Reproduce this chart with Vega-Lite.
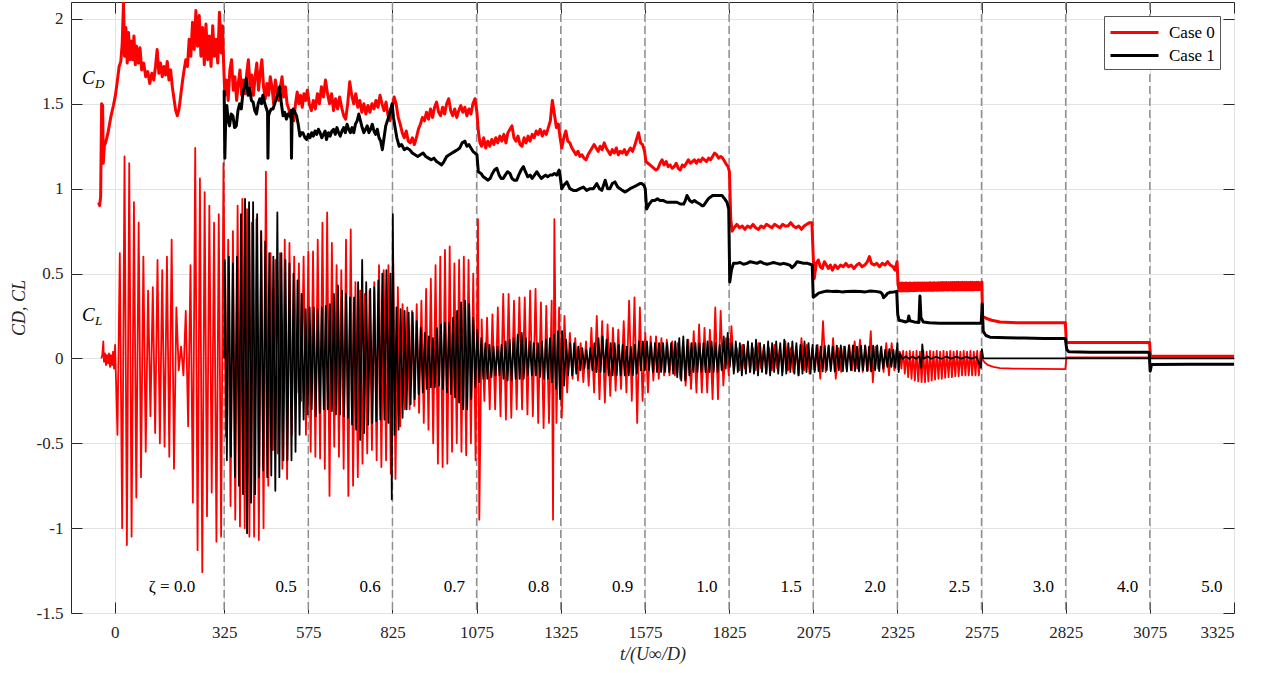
{
"$schema":"https://vega.github.io/schema/vega-lite/v6.json",
"width":1163,"height":611,
"autosize":{"type":"none"},
"padding":{"left":71,"top":2,"right":37,"bottom":60},
"background":"white",
"config":{
"view":{"stroke":"#262626","strokeWidth":1},
"font":"Liberation Serif, Times New Roman, serif",
"axis":{"labelFont":"Liberation Serif, Times New Roman, serif","labelFontSize":17,"labelColor":"#262626","titleFont":"Liberation Serif, Times New Roman, serif","titleFontSize":18,"titleFontStyle":"italic","titleFontWeight":"normal","titleColor":"#262626","tickColor":"#262626","tickSize":-11,"tickWidth":1,"domain":false,"gridColor":"#e3e3e3","gridWidth":1},
"legend":{"labelFont":"Liberation Serif, Times New Roman, serif"}
},
"datasets":{
"bounds":[{"b":325},{"b":575},{"b":825},{"b":1075},{"b":1325},{"b":1575},{"b":1825},{"b":2075},{"b":2325},{"b":2575},{"b":2825},{"b":3075}],
"zones":[{"lab":"ζ = 0.0","lt":170,"lv":-1.346},{"lab":"0.5","lt":509,"lv":-1.346},{"lab":"0.6","lt":759,"lv":-1.346},{"lab":"0.7","lt":1009,"lv":-1.346},{"lab":"0.8","lt":1259,"lv":-1.346},{"lab":"0.9","lt":1509,"lv":-1.346},{"lab":"1.0","lt":1759,"lv":-1.346},{"lab":"1.5","lt":2009,"lv":-1.346},{"lab":"2.0","lt":2259,"lv":-1.346},{"lab":"2.5","lt":2509,"lv":-1.346},{"lab":"3.0","lt":2759,"lv":-1.346},{"lab":"4.0","lt":3009,"lv":-1.346},{"lab":"5.0","lt":3259,"lv":-1.346}],
"notes":[{"m":"C","sub":"D","nt":-97,"nv":1.617},{"m":"C","sub":"L","nt":-97,"nv":0.22}],
"curves":[
{"t":-48,"v":0.92,"s":"D0"},{"t":-45,"v":0.9,"s":"D0"},{"t":-42,"v":0.95,"s":"D0"},{"t":-39,"v":1.5,"s":"D0"},{"t":-36,"v":1.49,"s":"D0"},{"t":-34,"v":1.15,"s":"D0"},{"t":-31,"v":1.25,"s":"D0"},{"t":-26,"v":1.28,"s":"D0"},{"t":-20,"v":1.33,"s":"D0"},{"t":-12,"v":1.42,"s":"D0"},{"t":-4,"v":1.49,"s":"D0"},{"t":2,"v":1.55,"s":"D0"},{"t":8,"v":1.64,"s":"D0"},{"t":13,"v":1.72,"s":"D0"},{"t":18,"v":1.75,"s":"D0"},{"t":22,"v":1.85,"s":"D0"},{"t":26,"v":2.1,"s":"D0"},{"t":29,"v":1.78,"s":"D0"},{"t":33,"v":1.95,"s":"D0"},{"t":37,"v":1.74,"s":"D0"},{"t":41,"v":1.92,"s":"D0"},{"t":45,"v":1.76,"s":"D0"},{"t":49,"v":1.87,"s":"D0"},{"t":53,"v":1.76,"s":"D0"},{"t":57,"v":1.9,"s":"D0"},{"t":61,"v":1.73,"s":"D0"},{"t":65,"v":1.84,"s":"D0"},{"t":70,"v":1.74,"s":"D0"},{"t":75,"v":1.83,"s":"D0"},{"t":80,"v":1.7,"s":"D0"},{"t":86,"v":1.74,"s":"D0"},{"t":92,"v":1.66,"s":"D0"},{"t":98,"v":1.69,"s":"D0"},{"t":104,"v":1.62,"s":"D0"},{"t":110,"v":1.68,"s":"D0"},{"t":116,"v":1.64,"s":"D0"},{"t":121,"v":1.72,"s":"D0"},{"t":126,"v":1.82,"s":"D0"},{"t":131,"v":1.68,"s":"D0"},{"t":136,"v":1.74,"s":"D0"},{"t":141,"v":1.66,"s":"D0"},{"t":146,"v":1.72,"s":"D0"},{"t":151,"v":1.67,"s":"D0"},{"t":156,"v":1.75,"s":"D0"},{"t":161,"v":1.64,"s":"D0"},{"t":166,"v":1.7,"s":"D0"},{"t":171,"v":1.6,"s":"D0"},{"t":176,"v":1.53,"s":"D0"},{"t":181,"v":1.46,"s":"D0"},{"t":186,"v":1.43,"s":"D0"},{"t":191,"v":1.47,"s":"D0"},{"t":196,"v":1.55,"s":"D0"},{"t":201,"v":1.63,"s":"D0"},{"t":206,"v":1.7,"s":"D0"},{"t":211,"v":1.76,"s":"D0"},{"t":216,"v":1.72,"s":"D0"},{"t":221,"v":1.88,"s":"D0"},{"t":226,"v":1.78,"s":"D0"},{"t":231,"v":1.98,"s":"D0"},{"t":236,"v":1.82,"s":"D0"},{"t":241,"v":2.05,"s":"D0"},{"t":246,"v":1.84,"s":"D0"},{"t":251,"v":2.02,"s":"D0"},{"t":256,"v":1.78,"s":"D0"},{"t":261,"v":1.95,"s":"D0"},{"t":266,"v":1.73,"s":"D0"},{"t":271,"v":1.97,"s":"D0"},{"t":276,"v":1.76,"s":"D0"},{"t":281,"v":1.9,"s":"D0"},{"t":286,"v":1.72,"s":"D0"},{"t":291,"v":1.96,"s":"D0"},{"t":296,"v":1.78,"s":"D0"},{"t":301,"v":1.88,"s":"D0"},{"t":306,"v":1.74,"s":"D0"},{"t":311,"v":2.04,"s":"D0"},{"t":316,"v":1.8,"s":"D0"},{"t":320,"v":1.96,"s":"D0"},{"t":323,"v":1.76,"s":"D0"},{"t":327,"v":1.55,"s":"D0"},
{"t":332,"v":1.64,"s":"D0"},{"t":337,"v":1.52,"s":"D0"},{"t":342,"v":1.7,"s":"D0"},{"t":347,"v":1.76,"s":"D0"},{"t":352,"v":1.58,"s":"D0"},{"t":357,"v":1.66,"s":"D0"},{"t":362,"v":1.52,"s":"D0"},{"t":367,"v":1.62,"s":"D0"},{"t":372,"v":1.7,"s":"D0"},{"t":377,"v":1.55,"s":"D0"},{"t":382,"v":1.64,"s":"D0"},{"t":387,"v":1.56,"s":"D0"},{"t":392,"v":1.68,"s":"D0"},{"t":397,"v":1.76,"s":"D0"},{"t":402,"v":1.6,"s":"D0"},{"t":407,"v":1.67,"s":"D0"},{"t":412,"v":1.55,"s":"D0"},{"t":417,"v":1.66,"s":"D0"},{"t":422,"v":1.74,"s":"D0"},{"t":427,"v":1.58,"s":"D0"},{"t":432,"v":1.68,"s":"D0"},{"t":437,"v":1.76,"s":"D0"},{"t":442,"v":1.6,"s":"D0"},{"t":447,"v":1.53,"s":"D0"},{"t":452,"v":1.62,"s":"D0"},{"t":457,"v":1.55,"s":"D0"},{"t":462,"v":1.66,"s":"D0"},{"t":467,"v":1.6,"s":"D0"},{"t":472,"v":1.5,"s":"D0"},{"t":477,"v":1.64,"s":"D0"},{"t":482,"v":1.58,"s":"D0"},{"t":487,"v":1.52,"s":"D0"},{"t":492,"v":1.6,"s":"D0"},{"t":497,"v":1.66,"s":"D0"},{"t":502,"v":1.54,"s":"D0"},{"t":507,"v":1.6,"s":"D0"},{"t":512,"v":1.5,"s":"D0"},{"t":517,"v":1.47,"s":"D0"},{"t":522,"v":1.42,"s":"D0"},{"t":527,"v":1.46,"s":"D0"},{"t":532,"v":1.4,"s":"D0"},{"t":537,"v":1.5,"s":"D0"},{"t":542,"v":1.57,"s":"D0"},{"t":547,"v":1.5,"s":"D0"},{"t":552,"v":1.55,"s":"D0"},{"t":557,"v":1.48,"s":"D0"},{"t":562,"v":1.56,"s":"D0"},{"t":567,"v":1.52,"s":"D0"},{"t":572,"v":1.58,"s":"D0"},
{"t":578,"v":1.5,"s":"D0"},{"t":584,"v":1.46,"s":"D0"},{"t":590,"v":1.52,"s":"D0"},{"t":596,"v":1.47,"s":"D0"},{"t":602,"v":1.56,"s":"D0"},{"t":608,"v":1.5,"s":"D0"},{"t":614,"v":1.6,"s":"D0"},{"t":620,"v":1.54,"s":"D0"},{"t":626,"v":1.64,"s":"D0"},{"t":632,"v":1.56,"s":"D0"},{"t":638,"v":1.5,"s":"D0"},{"t":644,"v":1.56,"s":"D0"},{"t":650,"v":1.46,"s":"D0"},{"t":656,"v":1.53,"s":"D0"},{"t":662,"v":1.47,"s":"D0"},{"t":668,"v":1.54,"s":"D0"},{"t":674,"v":1.48,"s":"D0"},{"t":680,"v":1.43,"s":"D0"},{"t":686,"v":1.41,"s":"D0"},{"t":692,"v":1.5,"s":"D0"},{"t":698,"v":1.63,"s":"D0"},{"t":704,"v":1.55,"s":"D0"},{"t":710,"v":1.5,"s":"D0"},{"t":716,"v":1.56,"s":"D0"},{"t":722,"v":1.48,"s":"D0"},{"t":728,"v":1.52,"s":"D0"},{"t":734,"v":1.45,"s":"D0"},{"t":740,"v":1.5,"s":"D0"},{"t":746,"v":1.44,"s":"D0"},{"t":752,"v":1.49,"s":"D0"},{"t":758,"v":1.45,"s":"D0"},{"t":764,"v":1.5,"s":"D0"},{"t":770,"v":1.47,"s":"D0"},{"t":776,"v":1.52,"s":"D0"},{"t":782,"v":1.48,"s":"D0"},{"t":788,"v":1.55,"s":"D0"},{"t":794,"v":1.5,"s":"D0"},{"t":800,"v":1.46,"s":"D0"},{"t":806,"v":1.51,"s":"D0"},{"t":812,"v":1.43,"s":"D0"},{"t":818,"v":1.4,"s":"D0"},{"t":824,"v":1.47,"s":"D0"},{"t":830,"v":1.54,"s":"D0"},{"t":836,"v":1.5,"s":"D0"},
{"t":842,"v":1.42,"s":"D0"},{"t":848,"v":1.38,"s":"D0"},{"t":854,"v":1.33,"s":"D0"},{"t":860,"v":1.3,"s":"D0"},{"t":866,"v":1.34,"s":"D0"},{"t":872,"v":1.28,"s":"D0"},{"t":878,"v":1.27,"s":"D0"},{"t":884,"v":1.3,"s":"D0"},{"t":890,"v":1.26,"s":"D0"},{"t":896,"v":1.3,"s":"D0"},{"t":902,"v":1.35,"s":"D0"},{"t":908,"v":1.38,"s":"D0"},{"t":914,"v":1.42,"s":"D0"},{"t":920,"v":1.4,"s":"D0"},{"t":926,"v":1.45,"s":"D0"},{"t":932,"v":1.41,"s":"D0"},{"t":938,"v":1.47,"s":"D0"},{"t":944,"v":1.42,"s":"D0"},{"t":950,"v":1.48,"s":"D0"},{"t":956,"v":1.51,"s":"D0"},{"t":962,"v":1.45,"s":"D0"},{"t":968,"v":1.43,"s":"D0"},{"t":974,"v":1.48,"s":"D0"},{"t":980,"v":1.44,"s":"D0"},{"t":986,"v":1.5,"s":"D0"},{"t":992,"v":1.53,"s":"D0"},{"t":998,"v":1.46,"s":"D0"},{"t":1004,"v":1.43,"s":"D0"},{"t":1010,"v":1.47,"s":"D0"},{"t":1016,"v":1.42,"s":"D0"},{"t":1022,"v":1.46,"s":"D0"},{"t":1028,"v":1.49,"s":"D0"},{"t":1034,"v":1.45,"s":"D0"},{"t":1040,"v":1.48,"s":"D0"},{"t":1046,"v":1.43,"s":"D0"},{"t":1052,"v":1.47,"s":"D0"},{"t":1058,"v":1.44,"s":"D0"},{"t":1064,"v":1.5,"s":"D0"},{"t":1070,"v":1.53,"s":"D0"},{"t":1076,"v":1.45,"s":"D0"},
{"t":1080,"v":1.34,"s":"D0"},{"t":1085,"v":1.27,"s":"D0"},{"t":1090,"v":1.25,"s":"D0"},{"t":1096,"v":1.3,"s":"D0"},{"t":1102,"v":1.24,"s":"D0"},{"t":1108,"v":1.28,"s":"D0"},{"t":1114,"v":1.25,"s":"D0"},{"t":1120,"v":1.29,"s":"D0"},{"t":1126,"v":1.26,"s":"D0"},{"t":1132,"v":1.3,"s":"D0"},{"t":1138,"v":1.27,"s":"D0"},{"t":1144,"v":1.31,"s":"D0"},{"t":1150,"v":1.28,"s":"D0"},{"t":1156,"v":1.32,"s":"D0"},{"t":1162,"v":1.27,"s":"D0"},{"t":1168,"v":1.33,"s":"D0"},{"t":1174,"v":1.35,"s":"D0"},{"t":1180,"v":1.37,"s":"D0"},{"t":1186,"v":1.3,"s":"D0"},{"t":1192,"v":1.28,"s":"D0"},{"t":1198,"v":1.31,"s":"D0"},{"t":1204,"v":1.26,"s":"D0"},{"t":1210,"v":1.25,"s":"D0"},{"t":1216,"v":1.3,"s":"D0"},{"t":1222,"v":1.27,"s":"D0"},{"t":1228,"v":1.31,"s":"D0"},{"t":1234,"v":1.28,"s":"D0"},{"t":1240,"v":1.32,"s":"D0"},{"t":1246,"v":1.3,"s":"D0"},{"t":1252,"v":1.34,"s":"D0"},{"t":1258,"v":1.32,"s":"D0"},{"t":1264,"v":1.35,"s":"D0"},{"t":1270,"v":1.31,"s":"D0"},{"t":1276,"v":1.34,"s":"D0"},{"t":1282,"v":1.32,"s":"D0"},{"t":1288,"v":1.36,"s":"D0"},{"t":1294,"v":1.4,"s":"D0"},{"t":1300,"v":1.52,"s":"D0"},{"t":1306,"v":1.44,"s":"D0"},{"t":1312,"v":1.36,"s":"D0"},{"t":1318,"v":1.38,"s":"D0"},{"t":1323,"v":1.3,"s":"D0"},
{"t":1328,"v":1.24,"s":"D0"},{"t":1334,"v":1.3,"s":"D0"},{"t":1340,"v":1.34,"s":"D0"},{"t":1346,"v":1.28,"s":"D0"},{"t":1352,"v":1.27,"s":"D0"},{"t":1358,"v":1.24,"s":"D0"},{"t":1364,"v":1.22,"s":"D0"},{"t":1370,"v":1.2,"s":"D0"},{"t":1376,"v":1.22,"s":"D0"},{"t":1382,"v":1.19,"s":"D0"},{"t":1388,"v":1.2,"s":"D0"},{"t":1394,"v":1.18,"s":"D0"},{"t":1400,"v":1.17,"s":"D0"},{"t":1406,"v":1.2,"s":"D0"},{"t":1412,"v":1.22,"s":"D0"},{"t":1418,"v":1.24,"s":"D0"},{"t":1424,"v":1.26,"s":"D0"},{"t":1430,"v":1.24,"s":"D0"},{"t":1436,"v":1.22,"s":"D0"},{"t":1442,"v":1.25,"s":"D0"},{"t":1448,"v":1.23,"s":"D0"},{"t":1454,"v":1.27,"s":"D0"},{"t":1460,"v":1.24,"s":"D0"},{"t":1466,"v":1.22,"s":"D0"},{"t":1472,"v":1.2,"s":"D0"},{"t":1478,"v":1.23,"s":"D0"},{"t":1484,"v":1.21,"s":"D0"},{"t":1490,"v":1.24,"s":"D0"},{"t":1496,"v":1.2,"s":"D0"},{"t":1502,"v":1.22,"s":"D0"},{"t":1508,"v":1.21,"s":"D0"},{"t":1514,"v":1.23,"s":"D0"},{"t":1520,"v":1.2,"s":"D0"},{"t":1526,"v":1.22,"s":"D0"},{"t":1532,"v":1.24,"s":"D0"},{"t":1538,"v":1.22,"s":"D0"},{"t":1544,"v":1.25,"s":"D0"},{"t":1550,"v":1.29,"s":"D0"},{"t":1556,"v":1.33,"s":"D0"},{"t":1562,"v":1.27,"s":"D0"},{"t":1568,"v":1.26,"s":"D0"},{"t":1574,"v":1.22,"s":"D0"},
{"t":1578,"v":1.16,"s":"D0"},{"t":1584,"v":1.15,"s":"D0"},{"t":1590,"v":1.14,"s":"D0"},{"t":1596,"v":1.13,"s":"D0"},{"t":1602,"v":1.12,"s":"D0"},{"t":1608,"v":1.11,"s":"D0"},{"t":1614,"v":1.12,"s":"D0"},{"t":1620,"v":1.15,"s":"D0"},{"t":1626,"v":1.17,"s":"D0"},{"t":1632,"v":1.14,"s":"D0"},{"t":1638,"v":1.16,"s":"D0"},{"t":1644,"v":1.13,"s":"D0"},{"t":1650,"v":1.14,"s":"D0"},{"t":1656,"v":1.12,"s":"D0"},{"t":1662,"v":1.13,"s":"D0"},{"t":1668,"v":1.15,"s":"D0"},{"t":1674,"v":1.12,"s":"D0"},{"t":1680,"v":1.11,"s":"D0"},{"t":1686,"v":1.14,"s":"D0"},{"t":1692,"v":1.13,"s":"D0"},{"t":1698,"v":1.15,"s":"D0"},{"t":1704,"v":1.17,"s":"D0"},{"t":1710,"v":1.15,"s":"D0"},{"t":1716,"v":1.16,"s":"D0"},{"t":1722,"v":1.17,"s":"D0"},{"t":1728,"v":1.15,"s":"D0"},{"t":1734,"v":1.17,"s":"D0"},{"t":1740,"v":1.16,"s":"D0"},{"t":1746,"v":1.18,"s":"D0"},{"t":1752,"v":1.17,"s":"D0"},{"t":1758,"v":1.16,"s":"D0"},{"t":1764,"v":1.18,"s":"D0"},{"t":1770,"v":1.17,"s":"D0"},{"t":1776,"v":1.19,"s":"D0"},{"t":1782,"v":1.21,"s":"D0"},{"t":1788,"v":1.2,"s":"D0"},{"t":1794,"v":1.18,"s":"D0"},{"t":1800,"v":1.19,"s":"D0"},{"t":1806,"v":1.18,"s":"D0"},{"t":1812,"v":1.16,"s":"D0"},{"t":1818,"v":1.14,"s":"D0"},{"t":1822,"v":1.13,"s":"D0"},
{"t":1826,"v":1.1,"s":"D0"},{"t":1830,"v":0.82,"s":"D0"},{"t":1834,"v":0.75,"s":"D0"},{"t":1840,"v":0.77,"s":"D0"},{"t":1848,"v":0.79,"s":"D0"},{"t":1856,"v":0.77,"s":"D0"},{"t":1864,"v":0.78,"s":"D0"},{"t":1872,"v":0.76,"s":"D0"},{"t":1880,"v":0.78,"s":"D0"},{"t":1888,"v":0.77,"s":"D0"},{"t":1896,"v":0.79,"s":"D0"},{"t":1904,"v":0.77,"s":"D0"},{"t":1912,"v":0.76,"s":"D0"},{"t":1920,"v":0.78,"s":"D0"},{"t":1928,"v":0.77,"s":"D0"},{"t":1936,"v":0.79,"s":"D0"},{"t":1944,"v":0.78,"s":"D0"},{"t":1952,"v":0.77,"s":"D0"},{"t":1960,"v":0.79,"s":"D0"},{"t":1968,"v":0.78,"s":"D0"},{"t":1976,"v":0.77,"s":"D0"},{"t":1984,"v":0.79,"s":"D0"},{"t":1992,"v":0.78,"s":"D0"},{"t":2000,"v":0.78,"s":"D0"},{"t":2008,"v":0.8,"s":"D0"},{"t":2016,"v":0.78,"s":"D0"},{"t":2024,"v":0.77,"s":"D0"},{"t":2032,"v":0.78,"s":"D0"},{"t":2040,"v":0.76,"s":"D0"},{"t":2048,"v":0.78,"s":"D0"},{"t":2056,"v":0.79,"s":"D0"},{"t":2064,"v":0.8,"s":"D0"},{"t":2071,"v":0.8,"s":"D0"},{"t":2075,"v":0.6,"s":"D0"},
{"t":2078,"v":0.47,"s":"D0"},{"t":2084,"v":0.56,"s":"D0"},{"t":2090,"v":0.58,"s":"D0"},{"t":2096,"v":0.54,"s":"D0"},{"t":2102,"v":0.53,"s":"D0"},{"t":2108,"v":0.57,"s":"D0"},{"t":2114,"v":0.55,"s":"D0"},{"t":2120,"v":0.53,"s":"D0"},{"t":2126,"v":0.55,"s":"D0"},{"t":2132,"v":0.52,"s":"D0"},{"t":2140,"v":0.55,"s":"D0"},{"t":2148,"v":0.53,"s":"D0"},{"t":2156,"v":0.55,"s":"D0"},{"t":2164,"v":0.54,"s":"D0"},{"t":2172,"v":0.56,"s":"D0"},{"t":2180,"v":0.54,"s":"D0"},{"t":2188,"v":0.55,"s":"D0"},{"t":2196,"v":0.53,"s":"D0"},{"t":2204,"v":0.55,"s":"D0"},{"t":2212,"v":0.56,"s":"D0"},{"t":2220,"v":0.54,"s":"D0"},{"t":2228,"v":0.55,"s":"D0"},{"t":2236,"v":0.57,"s":"D0"},{"t":2242,"v":0.6,"s":"D0"},{"t":2248,"v":0.56,"s":"D0"},{"t":2256,"v":0.55,"s":"D0"},{"t":2264,"v":0.56,"s":"D0"},{"t":2272,"v":0.54,"s":"D0"},{"t":2280,"v":0.56,"s":"D0"},{"t":2288,"v":0.55,"s":"D0"},{"t":2296,"v":0.57,"s":"D0"},{"t":2304,"v":0.55,"s":"D0"},{"t":2312,"v":0.54,"s":"D0"},{"t":2318,"v":0.52,"s":"D0"},{"t":2324,"v":0.57,"s":"D0"},
{"t":2327,"v":0.44,"s":"D0"},{"t":2330,"v":0.398,"s":"D0"},{"t":2333,"v":0.443,"s":"D0"},{"t":2336,"v":0.397,"s":"D0"},{"t":2339,"v":0.444,"s":"D0"},{"t":2342,"v":0.398,"s":"D0"},{"t":2345,"v":0.443,"s":"D0"},{"t":2348,"v":0.399,"s":"D0"},{"t":2351,"v":0.444,"s":"D0"},{"t":2354,"v":0.398,"s":"D0"},{"t":2357,"v":0.443,"s":"D0"},{"t":2360,"v":0.399,"s":"D0"},{"t":2363,"v":0.444,"s":"D0"},{"t":2366,"v":0.4,"s":"D0"},{"t":2369,"v":0.443,"s":"D0"},{"t":2372,"v":0.399,"s":"D0"},{"t":2375,"v":0.444,"s":"D0"},{"t":2378,"v":0.4,"s":"D0"},{"t":2381,"v":0.445,"s":"D0"},{"t":2384,"v":0.4,"s":"D0"},{"t":2387,"v":0.444,"s":"D0"},{"t":2390,"v":0.401,"s":"D0"},{"t":2393,"v":0.445,"s":"D0"},{"t":2396,"v":0.4,"s":"D0"},{"t":2399,"v":0.444,"s":"D0"},{"t":2402,"v":0.401,"s":"D0"},{"t":2405,"v":0.445,"s":"D0"},{"t":2408,"v":0.401,"s":"D0"},{"t":2411,"v":0.445,"s":"D0"},{"t":2414,"v":0.402,"s":"D0"},{"t":2417,"v":0.445,"s":"D0"},{"t":2420,"v":0.401,"s":"D0"},{"t":2423,"v":0.446,"s":"D0"},{"t":2426,"v":0.402,"s":"D0"},{"t":2429,"v":0.445,"s":"D0"},{"t":2432,"v":0.402,"s":"D0"},{"t":2435,"v":0.446,"s":"D0"},{"t":2438,"v":0.403,"s":"D0"},{"t":2441,"v":0.445,"s":"D0"},{"t":2444,"v":0.402,"s":"D0"},{"t":2447,"v":0.446,"s":"D0"},{"t":2450,"v":0.403,"s":"D0"},{"t":2453,"v":0.446,"s":"D0"},{"t":2456,"v":0.403,"s":"D0"},{"t":2459,"v":0.447,"s":"D0"},{"t":2462,"v":0.403,"s":"D0"},{"t":2465,"v":0.446,"s":"D0"},{"t":2468,"v":0.404,"s":"D0"},{"t":2471,"v":0.447,"s":"D0"},{"t":2474,"v":0.403,"s":"D0"},{"t":2477,"v":0.446,"s":"D0"},{"t":2480,"v":0.404,"s":"D0"},{"t":2483,"v":0.447,"s":"D0"},{"t":2486,"v":0.404,"s":"D0"},{"t":2489,"v":0.447,"s":"D0"},{"t":2492,"v":0.403,"s":"D0"},{"t":2495,"v":0.447,"s":"D0"},{"t":2498,"v":0.404,"s":"D0"},{"t":2501,"v":0.447,"s":"D0"},{"t":2504,"v":0.404,"s":"D0"},{"t":2507,"v":0.448,"s":"D0"},{"t":2510,"v":0.404,"s":"D0"},{"t":2513,"v":0.447,"s":"D0"},{"t":2516,"v":0.405,"s":"D0"},{"t":2519,"v":0.448,"s":"D0"},{"t":2522,"v":0.404,"s":"D0"},{"t":2525,"v":0.447,"s":"D0"},{"t":2528,"v":0.405,"s":"D0"},{"t":2531,"v":0.448,"s":"D0"},{"t":2534,"v":0.405,"s":"D0"},{"t":2537,"v":0.447,"s":"D0"},{"t":2540,"v":0.405,"s":"D0"},{"t":2543,"v":0.448,"s":"D0"},{"t":2546,"v":0.405,"s":"D0"},{"t":2549,"v":0.448,"s":"D0"},{"t":2552,"v":0.405,"s":"D0"},{"t":2555,"v":0.447,"s":"D0"},{"t":2558,"v":0.406,"s":"D0"},{"t":2561,"v":0.448,"s":"D0"},{"t":2564,"v":0.405,"s":"D0"},{"t":2567,"v":0.448,"s":"D0"},{"t":2570,"v":0.406,"s":"D0"},{"t":2573,"v":0.445,"s":"D0"},
{"t":2576,"v":0.45,"s":"D0"},{"t":2578,"v":0.25,"s":"D0"},{"t":2590,"v":0.235,"s":"D0"},{"t":2605,"v":0.225,"s":"D0"},{"t":2630,"v":0.215,"s":"D0"},{"t":2680,"v":0.21,"s":"D0"},{"t":2750,"v":0.21,"s":"D0"},{"t":2824,"v":0.21,"s":"D0"},{"t":2827,"v":0.094,"s":"D0"},{"t":2900,"v":0.094,"s":"D0"},{"t":3000,"v":0.094,"s":"D0"},{"t":3074,"v":0.094,"s":"D0"},{"t":3077,"v":0.013,"s":"D0"},{"t":3200,"v":0.013,"s":"D0"},{"t":3325,"v":0.013,"s":"D0"},
{"t":325,"v":1.58,"s":"D1"},{"t":327,"v":1.18,"s":"D1"},{"t":330,"v":1.45,"s":"D1"},{"t":333,"v":1.49,"s":"D1"},{"t":337,"v":1.4,"s":"D1"},{"t":341,"v":1.37,"s":"D1"},{"t":346,"v":1.44,"s":"D1"},{"t":351,"v":1.43,"s":"D1"},{"t":356,"v":1.36,"s":"D1"},{"t":361,"v":1.37,"s":"D1"},{"t":366,"v":1.46,"s":"D1"},{"t":371,"v":1.5,"s":"D1"},{"t":376,"v":1.47,"s":"D1"},{"t":381,"v":1.57,"s":"D1"},{"t":386,"v":1.6,"s":"D1"},{"t":391,"v":1.65,"s":"D1"},{"t":396,"v":1.55,"s":"D1"},{"t":401,"v":1.59,"s":"D1"},{"t":406,"v":1.52,"s":"D1"},{"t":411,"v":1.51,"s":"D1"},{"t":416,"v":1.46,"s":"D1"},{"t":421,"v":1.44,"s":"D1"},{"t":426,"v":1.5,"s":"D1"},{"t":431,"v":1.53,"s":"D1"},{"t":436,"v":1.5,"s":"D1"},{"t":440,"v":1.55,"s":"D1"},{"t":446,"v":1.5,"s":"D1"},{"t":451,"v":1.47,"s":"D1"},{"t":454,"v":1.45,"s":"D1"},{"t":455,"v":1.18,"s":"D1"},{"t":457,"v":1.43,"s":"D1"},{"t":460,"v":1.45,"s":"D1"},{"t":465,"v":1.47,"s":"D1"},{"t":470,"v":1.47,"s":"D1"},{"t":475,"v":1.5,"s":"D1"},{"t":480,"v":1.53,"s":"D1"},{"t":485,"v":1.56,"s":"D1"},{"t":490,"v":1.6,"s":"D1"},{"t":495,"v":1.5,"s":"D1"},{"t":500,"v":1.43,"s":"D1"},{"t":505,"v":1.45,"s":"D1"},{"t":510,"v":1.41,"s":"D1"},{"t":515,"v":1.44,"s":"D1"},{"t":520,"v":1.43,"s":"D1"},{"t":524,"v":1.46,"s":"D1"},{"t":525,"v":1.18,"s":"D1"},{"t":527,"v":1.44,"s":"D1"},{"t":530,"v":1.47,"s":"D1"},{"t":535,"v":1.45,"s":"D1"},{"t":540,"v":1.43,"s":"D1"},{"t":545,"v":1.38,"s":"D1"},{"t":550,"v":1.31,"s":"D1"},{"t":555,"v":1.33,"s":"D1"},{"t":559,"v":1.33,"s":"D1"},{"t":565,"v":1.3,"s":"D1"},{"t":570,"v":1.29,"s":"D1"},{"t":575,"v":1.32,"s":"D1"},
{"t":580,"v":1.3,"s":"D1"},{"t":585,"v":1.33,"s":"D1"},{"t":590,"v":1.31,"s":"D1"},{"t":595,"v":1.34,"s":"D1"},{"t":600,"v":1.32,"s":"D1"},{"t":605,"v":1.35,"s":"D1"},{"t":610,"v":1.33,"s":"D1"},{"t":615,"v":1.3,"s":"D1"},{"t":620,"v":1.32,"s":"D1"},{"t":625,"v":1.34,"s":"D1"},{"t":629,"v":1.29,"s":"D1"},{"t":635,"v":1.33,"s":"D1"},{"t":640,"v":1.31,"s":"D1"},{"t":645,"v":1.34,"s":"D1"},{"t":650,"v":1.35,"s":"D1"},{"t":655,"v":1.32,"s":"D1"},{"t":660,"v":1.36,"s":"D1"},{"t":665,"v":1.33,"s":"D1"},{"t":670,"v":1.31,"s":"D1"},{"t":675,"v":1.34,"s":"D1"},{"t":680,"v":1.36,"s":"D1"},{"t":685,"v":1.33,"s":"D1"},{"t":690,"v":1.38,"s":"D1"},{"t":695,"v":1.35,"s":"D1"},{"t":700,"v":1.33,"s":"D1"},{"t":705,"v":1.36,"s":"D1"},{"t":710,"v":1.33,"s":"D1"},{"t":715,"v":1.38,"s":"D1"},{"t":720,"v":1.4,"s":"D1"},{"t":725,"v":1.44,"s":"D1"},{"t":730,"v":1.4,"s":"D1"},{"t":735,"v":1.36,"s":"D1"},{"t":740,"v":1.33,"s":"D1"},{"t":745,"v":1.35,"s":"D1"},{"t":750,"v":1.37,"s":"D1"},{"t":755,"v":1.33,"s":"D1"},{"t":760,"v":1.35,"s":"D1"},{"t":765,"v":1.38,"s":"D1"},{"t":770,"v":1.34,"s":"D1"},{"t":775,"v":1.32,"s":"D1"},{"t":780,"v":1.35,"s":"D1"},{"t":785,"v":1.3,"s":"D1"},{"t":790,"v":1.28,"s":"D1"},{"t":795,"v":1.23,"s":"D1"},{"t":800,"v":1.3,"s":"D1"},{"t":805,"v":1.37,"s":"D1"},{"t":810,"v":1.4,"s":"D1"},{"t":815,"v":1.43,"s":"D1"},{"t":820,"v":1.47,"s":"D1"},{"t":824,"v":1.5,"s":"D1"},{"t":828,"v":1.42,"s":"D1"},{"t":832,"v":1.37,"s":"D1"},
{"t":838,"v":1.3,"s":"D1"},{"t":845,"v":1.25,"s":"D1"},{"t":852,"v":1.26,"s":"D1"},{"t":860,"v":1.23,"s":"D1"},{"t":868,"v":1.24,"s":"D1"},{"t":876,"v":1.23,"s":"D1"},{"t":884,"v":1.21,"s":"D1"},{"t":892,"v":1.2,"s":"D1"},{"t":900,"v":1.19,"s":"D1"},{"t":908,"v":1.2,"s":"D1"},{"t":916,"v":1.21,"s":"D1"},{"t":924,"v":1.19,"s":"D1"},{"t":932,"v":1.18,"s":"D1"},{"t":940,"v":1.17,"s":"D1"},{"t":948,"v":1.18,"s":"D1"},{"t":956,"v":1.16,"s":"D1"},{"t":964,"v":1.15,"s":"D1"},{"t":971,"v":1.14,"s":"D1"},{"t":978,"v":1.16,"s":"D1"},{"t":986,"v":1.19,"s":"D1"},{"t":994,"v":1.2,"s":"D1"},{"t":1002,"v":1.21,"s":"D1"},{"t":1010,"v":1.22,"s":"D1"},{"t":1018,"v":1.23,"s":"D1"},{"t":1025,"v":1.24,"s":"D1"},{"t":1032,"v":1.27,"s":"D1"},{"t":1040,"v":1.28,"s":"D1"},{"t":1046,"v":1.25,"s":"D1"},{"t":1052,"v":1.26,"s":"D1"},{"t":1058,"v":1.24,"s":"D1"},{"t":1064,"v":1.22,"s":"D1"},{"t":1070,"v":1.21,"s":"D1"},{"t":1076,"v":1.2,"s":"D1"},
{"t":1080,"v":1.1,"s":"D1"},{"t":1088,"v":1.09,"s":"D1"},{"t":1095,"v":1.07,"s":"D1"},{"t":1102,"v":1.06,"s":"D1"},{"t":1108,"v":1.05,"s":"D1"},{"t":1115,"v":1.06,"s":"D1"},{"t":1122,"v":1.09,"s":"D1"},{"t":1128,"v":1.11,"s":"D1"},{"t":1135,"v":1.12,"s":"D1"},{"t":1142,"v":1.08,"s":"D1"},{"t":1148,"v":1.06,"s":"D1"},{"t":1154,"v":1.06,"s":"D1"},{"t":1160,"v":1.08,"s":"D1"},{"t":1167,"v":1.1,"s":"D1"},{"t":1174,"v":1.09,"s":"D1"},{"t":1180,"v":1.06,"s":"D1"},{"t":1187,"v":1.05,"s":"D1"},{"t":1194,"v":1.05,"s":"D1"},{"t":1200,"v":1.08,"s":"D1"},{"t":1207,"v":1.11,"s":"D1"},{"t":1214,"v":1.13,"s":"D1"},{"t":1220,"v":1.1,"s":"D1"},{"t":1227,"v":1.07,"s":"D1"},{"t":1234,"v":1.08,"s":"D1"},{"t":1240,"v":1.06,"s":"D1"},{"t":1247,"v":1.08,"s":"D1"},{"t":1254,"v":1.1,"s":"D1"},{"t":1260,"v":1.08,"s":"D1"},{"t":1267,"v":1.06,"s":"D1"},{"t":1273,"v":1.07,"s":"D1"},{"t":1280,"v":1.08,"s":"D1"},{"t":1286,"v":1.07,"s":"D1"},{"t":1293,"v":1.08,"s":"D1"},{"t":1300,"v":1.08,"s":"D1"},{"t":1306,"v":1.09,"s":"D1"},{"t":1313,"v":1.08,"s":"D1"},{"t":1320,"v":1.11,"s":"D1"},{"t":1324,"v":1.06,"s":"D1"},{"t":1328,"v":1.0,"s":"D1"},
{"t":1334,"v":1.02,"s":"D1"},{"t":1343,"v":1.04,"s":"D1"},{"t":1352,"v":1.0,"s":"D1"},{"t":1362,"v":0.99,"s":"D1"},{"t":1372,"v":0.99,"s":"D1"},{"t":1382,"v":1.0,"s":"D1"},{"t":1392,"v":1.01,"s":"D1"},{"t":1402,"v":0.99,"s":"D1"},{"t":1412,"v":1.0,"s":"D1"},{"t":1422,"v":1.0,"s":"D1"},{"t":1432,"v":1.03,"s":"D1"},{"t":1440,"v":1.0,"s":"D1"},{"t":1447,"v":0.99,"s":"D1"},{"t":1457,"v":1.05,"s":"D1"},{"t":1464,"v":1.0,"s":"D1"},{"t":1471,"v":1.0,"s":"D1"},{"t":1478,"v":1.03,"s":"D1"},{"t":1486,"v":1.04,"s":"D1"},{"t":1494,"v":1.01,"s":"D1"},{"t":1501,"v":1.0,"s":"D1"},{"t":1508,"v":0.99,"s":"D1"},{"t":1516,"v":0.98,"s":"D1"},{"t":1524,"v":0.99,"s":"D1"},{"t":1531,"v":1.0,"s":"D1"},{"t":1541,"v":1.01,"s":"D1"},{"t":1551,"v":1.02,"s":"D1"},{"t":1560,"v":1.03,"s":"D1"},{"t":1566,"v":1.03,"s":"D1"},{"t":1572,"v":1.02,"s":"D1"},{"t":1576,"v":1.0,"s":"D1"},
{"t":1580,"v":0.88,"s":"D1"},{"t":1588,"v":0.91,"s":"D1"},{"t":1596,"v":0.93,"s":"D1"},{"t":1604,"v":0.93,"s":"D1"},{"t":1612,"v":0.94,"s":"D1"},{"t":1620,"v":0.93,"s":"D1"},{"t":1630,"v":0.93,"s":"D1"},{"t":1640,"v":0.92,"s":"D1"},{"t":1650,"v":0.92,"s":"D1"},{"t":1660,"v":0.92,"s":"D1"},{"t":1670,"v":0.92,"s":"D1"},{"t":1680,"v":0.91,"s":"D1"},{"t":1690,"v":0.91,"s":"D1"},{"t":1695,"v":0.93,"s":"D1"},{"t":1700,"v":0.96,"s":"D1"},{"t":1708,"v":0.93,"s":"D1"},{"t":1715,"v":0.92,"s":"D1"},{"t":1722,"v":0.93,"s":"D1"},{"t":1729,"v":0.92,"s":"D1"},{"t":1738,"v":0.91,"s":"D1"},{"t":1744,"v":0.9,"s":"D1"},{"t":1749,"v":0.9,"s":"D1"},{"t":1756,"v":0.92,"s":"D1"},{"t":1763,"v":0.94,"s":"D1"},{"t":1769,"v":0.95,"s":"D1"},{"t":1776,"v":0.96,"s":"D1"},{"t":1783,"v":0.96,"s":"D1"},{"t":1789,"v":0.96,"s":"D1"},{"t":1796,"v":0.96,"s":"D1"},{"t":1804,"v":0.96,"s":"D1"},{"t":1812,"v":0.94,"s":"D1"},{"t":1819,"v":0.92,"s":"D1"},{"t":1824,"v":0.88,"s":"D1"},{"t":1827,"v":0.45,"s":"D1"},{"t":1832,"v":0.52,"s":"D1"},{"t":1838,"v":0.56,"s":"D1"},
{"t":1846,"v":0.56,"s":"D1"},{"t":1858,"v":0.565,"s":"D1"},{"t":1868,"v":0.555,"s":"D1"},{"t":1878,"v":0.56,"s":"D1"},{"t":1888,"v":0.57,"s":"D1"},{"t":1898,"v":0.565,"s":"D1"},{"t":1908,"v":0.56,"s":"D1"},{"t":1918,"v":0.57,"s":"D1"},{"t":1928,"v":0.56,"s":"D1"},{"t":1938,"v":0.555,"s":"D1"},{"t":1948,"v":0.56,"s":"D1"},{"t":1957,"v":0.565,"s":"D1"},{"t":1967,"v":0.56,"s":"D1"},{"t":1977,"v":0.555,"s":"D1"},{"t":1987,"v":0.56,"s":"D1"},{"t":1997,"v":0.555,"s":"D1"},{"t":2005,"v":0.55,"s":"D1"},{"t":2012,"v":0.535,"s":"D1"},{"t":2020,"v":0.55,"s":"D1"},{"t":2027,"v":0.57,"s":"D1"},{"t":2037,"v":0.565,"s":"D1"},{"t":2047,"v":0.56,"s":"D1"},{"t":2058,"v":0.56,"s":"D1"},{"t":2066,"v":0.555,"s":"D1"},{"t":2072,"v":0.55,"s":"D1"},{"t":2075,"v":0.36,"s":"D1"},{"t":2082,"v":0.37,"s":"D1"},{"t":2091,"v":0.385,"s":"D1"},
{"t":2104,"v":0.392,"s":"D1"},{"t":2116,"v":0.397,"s":"D1"},{"t":2130,"v":0.395,"s":"D1"},{"t":2146,"v":0.396,"s":"D1"},{"t":2160,"v":0.392,"s":"D1"},{"t":2175,"v":0.394,"s":"D1"},{"t":2195,"v":0.396,"s":"D1"},{"t":2215,"v":0.394,"s":"D1"},{"t":2230,"v":0.392,"s":"D1"},{"t":2245,"v":0.397,"s":"D1"},{"t":2260,"v":0.395,"s":"D1"},{"t":2275,"v":0.39,"s":"D1"},{"t":2280,"v":0.38,"s":"D1"},{"t":2284,"v":0.358,"s":"D1"},{"t":2290,"v":0.37,"s":"D1"},{"t":2297,"v":0.385,"s":"D1"},{"t":2304,"v":0.39,"s":"D1"},{"t":2314,"v":0.392,"s":"D1"},{"t":2323,"v":0.395,"s":"D1"},{"t":2326,"v":0.26,"s":"D1"},{"t":2330,"v":0.225,"s":"D1"},{"t":2340,"v":0.22,"s":"D1"},{"t":2350,"v":0.215,"s":"D1"},{"t":2356,"v":0.22,"s":"D1"},{"t":2359,"v":0.25,"s":"D1"},{"t":2362,"v":0.222,"s":"D1"},{"t":2375,"v":0.215,"s":"D1"},{"t":2389,"v":0.212,"s":"D1"},{"t":2392,"v":0.368,"s":"D1"},{"t":2395,"v":0.24,"s":"D1"},{"t":2402,"v":0.215,"s":"D1"},{"t":2420,"v":0.21,"s":"D1"},{"t":2450,"v":0.207,"s":"D1"},{"t":2500,"v":0.207,"s":"D1"},{"t":2540,"v":0.207,"s":"D1"},{"t":2574,"v":0.207,"s":"D1"},{"t":2577,"v":0.32,"s":"D1"},{"t":2580,"v":0.16,"s":"D1"},{"t":2588,"v":0.135,"s":"D1"},{"t":2600,"v":0.125,"s":"D1"},{"t":2650,"v":0.122,"s":"D1"},{"t":2700,"v":0.12,"s":"D1"},{"t":2760,"v":0.118,"s":"D1"},{"t":2824,"v":0.118,"s":"D1"},{"t":2828,"v":0.053,"s":"D1"},{"t":2834,"v":0.04,"s":"D1"},{"t":2900,"v":0.037,"s":"D1"},{"t":3000,"v":0.037,"s":"D1"},{"t":3073,"v":0.037,"s":"D1"},{"t":3076,"v":-0.075,"s":"D1"},{"t":3080,"v":-0.036,"s":"D1"},{"t":3200,"v":-0.035,"s":"D1"},{"t":3325,"v":-0.035,"s":"D1"},
{"t":-40,"v":0,"s":"L0"},{"t":-37,"v":0.02,"s":"L0"},{"t":-34,"v":0.1,"s":"L0"},{"t":-32,"v":-0.02,"s":"L0"},{"t":-29,"v":0.03,"s":"L0"},{"t":-26,"v":-0.04,"s":"L0"},{"t":-23,"v":0.02,"s":"L0"},{"t":-20,"v":-0.03,"s":"L0"},{"t":-17,"v":0.03,"s":"L0"},{"t":-14,"v":-0.05,"s":"L0"},{"t":-11,"v":0.02,"s":"L0"},{"t":-8,"v":-0.04,"s":"L0"},{"t":-5,"v":0.04,"s":"L0"},{"t":-2,"v":-0.06,"s":"L0"},
{"t":1,"v":0.08,"s":"L0"},{"t":8,"v":-0.45,"s":"L0"},{"t":15,"v":0.62,"s":"L0"},{"t":22,"v":-1.0,"s":"L0"},{"t":29,"v":1.19,"s":"L0"},{"t":36,"v":-1.1,"s":"L0"},{"t":43,"v":1.15,"s":"L0"},{"t":50,"v":-1.05,"s":"L0"},{"t":57,"v":0.92,"s":"L0"},{"t":64,"v":-0.82,"s":"L0"},{"t":71,"v":0.8,"s":"L0"},{"t":78,"v":-0.7,"s":"L0"},{"t":85,"v":0.6,"s":"L0"},{"t":92,"v":-0.55,"s":"L0"},{"t":99,"v":0.4,"s":"L0"},{"t":106,"v":-0.34,"s":"L0"},{"t":113,"v":0.42,"s":"L0"},{"t":120,"v":-0.44,"s":"L0"},{"t":127,"v":0.58,"s":"L0"},{"t":134,"v":-0.5,"s":"L0"},{"t":141,"v":0.52,"s":"L0"},{"t":148,"v":-0.52,"s":"L0"},{"t":155,"v":0.6,"s":"L0"},{"t":162,"v":-0.58,"s":"L0"},{"t":169,"v":0.7,"s":"L0"},{"t":176,"v":-0.65,"s":"L0"},{"t":183,"v":0.3,"s":"L0"},{"t":190,"v":-0.07,"s":"L0"},{"t":197,"v":0.07,"s":"L0"},{"t":204,"v":-0.1,"s":"L0"},{"t":211,"v":0.28,"s":"L0"},{"t":218,"v":-0.4,"s":"L0"},{"t":225,"v":0.55,"s":"L0"},{"t":232,"v":-0.85,"s":"L0"},{"t":239,"v":1.24,"s":"L0"},{"t":246,"v":-1.13,"s":"L0"},{"t":253,"v":1.06,"s":"L0"},{"t":260,"v":-1.26,"s":"L0"},{"t":267,"v":0.98,"s":"L0"},{"t":274,"v":-0.93,"s":"L0"},{"t":281,"v":0.9,"s":"L0"},{"t":288,"v":-0.79,"s":"L0"},{"t":295,"v":0.8,"s":"L0"},{"t":302,"v":-1.08,"s":"L0"},{"t":309,"v":0.85,"s":"L0"},{"t":316,"v":-1.05,"s":"L0"},{"t":323,"v":1.15,"s":"L0"},
{"t":330,"v":-0.46,"s":"L0"},{"t":337,"v":0.7,"s":"L0"},{"t":344,"v":-0.87,"s":"L0"},{"t":351,"v":0.75,"s":"L0"},{"t":358,"v":-0.95,"s":"L0"},{"t":365,"v":0.9,"s":"L0"},{"t":372,"v":-0.99,"s":"L0"},{"t":379,"v":0.94,"s":"L0"},{"t":386,"v":-1.0,"s":"L0"},{"t":393,"v":0.88,"s":"L0"},{"t":400,"v":-1.05,"s":"L0"},{"t":407,"v":0.8,"s":"L0"},{"t":414,"v":-1.05,"s":"L0"},{"t":421,"v":0.82,"s":"L0"},{"t":428,"v":-1.07,"s":"L0"},{"t":435,"v":0.75,"s":"L0"},{"t":442,"v":-1.0,"s":"L0"},{"t":449,"v":1.1,"s":"L0"},{"t":456,"v":-0.75,"s":"L0"},{"t":463,"v":0.62,"s":"L0"},{"t":470,"v":-0.54,"s":"L0"},{"t":477,"v":0.58,"s":"L0"},{"t":484,"v":-0.56,"s":"L0"},{"t":491,"v":0.62,"s":"L0"},{"t":498,"v":-0.65,"s":"L0"},{"t":505,"v":0.7,"s":"L0"},{"t":512,"v":-0.71,"s":"L0"},{"t":519,"v":0.68,"s":"L0"},{"t":526,"v":-0.45,"s":"L0"},{"t":533,"v":0.6,"s":"L0"},{"t":540,"v":-0.2,"s":"L0"},{"t":547,"v":0.56,"s":"L0"},{"t":554,"v":-0.25,"s":"L0"},{"t":561,"v":0.6,"s":"L0"},{"t":568,"v":-0.45,"s":"L0"},{"t":575,"v":0.63,"s":"L0"},{"t":582,"v":-0.55,"s":"L0"},{"t":589,"v":0.63,"s":"L0"},{"t":596,"v":-0.58,"s":"L0"},{"t":603,"v":0.7,"s":"L0"},{"t":610,"v":-0.59,"s":"L0"},{"t":617,"v":0.8,"s":"L0"},{"t":624,"v":-0.65,"s":"L0"},{"t":631,"v":0.86,"s":"L0"},{"t":638,"v":-0.81,"s":"L0"},{"t":645,"v":0.68,"s":"L0"},{"t":652,"v":-0.52,"s":"L0"},{"t":659,"v":0.55,"s":"L0"},{"t":666,"v":-0.58,"s":"L0"},{"t":673,"v":0.52,"s":"L0"},{"t":680,"v":-0.65,"s":"L0"},{"t":687,"v":0.7,"s":"L0"},{"t":694,"v":-0.81,"s":"L0"},{"t":701,"v":0.76,"s":"L0"},{"t":708,"v":-0.75,"s":"L0"},{"t":715,"v":0.45,"s":"L0"},{"t":722,"v":-0.7,"s":"L0"},{"t":729,"v":0.4,"s":"L0"},{"t":736,"v":-0.62,"s":"L0"},{"t":743,"v":0.38,"s":"L0"},{"t":750,"v":-0.56,"s":"L0"},{"t":757,"v":0.4,"s":"L0"},{"t":764,"v":-0.54,"s":"L0"},{"t":771,"v":0.45,"s":"L0"},{"t":778,"v":-0.6,"s":"L0"},{"t":785,"v":0.55,"s":"L0"},{"t":792,"v":-0.64,"s":"L0"},{"t":799,"v":0.52,"s":"L0"},{"t":806,"v":-0.6,"s":"L0"},{"t":813,"v":0.55,"s":"L0"},{"t":820,"v":-0.68,"s":"L0"},{"t":827,"v":0.6,"s":"L0"},{"t":834,"v":-0.71,"s":"L0"},{"t":841,"v":0.42,"s":"L0"},{"t":848,"v":-0.4,"s":"L0"},{"t":855,"v":0.32,"s":"L0"},{"t":862,"v":-0.3,"s":"L0"},{"t":869,"v":0.3,"s":"L0"},{"t":876,"v":-0.3,"s":"L0"},{"t":883,"v":0.28,"s":"L0"},{"t":890,"v":-0.28,"s":"L0"},{"t":897,"v":0.32,"s":"L0"},{"t":904,"v":-0.32,"s":"L0"},{"t":911,"v":0.34,"s":"L0"},{"t":918,"v":-0.38,"s":"L0"},{"t":925,"v":0.41,"s":"L0"},{"t":932,"v":-0.42,"s":"L0"},{"t":939,"v":0.47,"s":"L0"},{"t":946,"v":-0.5,"s":"L0"},{"t":953,"v":0.55,"s":"L0"},{"t":960,"v":-0.62,"s":"L0"},{"t":967,"v":0.6,"s":"L0"},{"t":974,"v":-0.64,"s":"L0"},{"t":981,"v":0.64,"s":"L0"},{"t":988,"v":-0.62,"s":"L0"},{"t":995,"v":0.66,"s":"L0"},{"t":1002,"v":-0.55,"s":"L0"},{"t":1009,"v":0.56,"s":"L0"},{"t":1016,"v":-0.5,"s":"L0"},{"t":1023,"v":0.58,"s":"L0"},{"t":1030,"v":-0.55,"s":"L0"},{"t":1037,"v":0.6,"s":"L0"},{"t":1044,"v":-0.57,"s":"L0"},{"t":1051,"v":0.58,"s":"L0"},{"t":1058,"v":-0.5,"s":"L0"},{"t":1065,"v":0.5,"s":"L0"},{"t":1072,"v":-0.6,"s":"L0"},{"t":1079,"v":0.82,"s":"L0"},{"t":1083,"v":-0.95,"s":"L0"},
{"t":1090,"v":0.23,"s":"L0"},{"t":1098,"v":-0.25,"s":"L0"},{"t":1106,"v":0.24,"s":"L0"},{"t":1114,"v":-0.3,"s":"L0"},{"t":1122,"v":0.26,"s":"L0"},{"t":1130,"v":-0.3,"s":"L0"},{"t":1138,"v":0.3,"s":"L0"},{"t":1146,"v":-0.34,"s":"L0"},{"t":1154,"v":0.38,"s":"L0"},{"t":1162,"v":-0.36,"s":"L0"},{"t":1170,"v":0.38,"s":"L0"},{"t":1178,"v":-0.35,"s":"L0"},{"t":1186,"v":0.34,"s":"L0"},{"t":1194,"v":-0.3,"s":"L0"},{"t":1202,"v":0.36,"s":"L0"},{"t":1210,"v":-0.3,"s":"L0"},{"t":1218,"v":0.36,"s":"L0"},{"t":1226,"v":-0.33,"s":"L0"},{"t":1234,"v":0.4,"s":"L0"},{"t":1242,"v":-0.34,"s":"L0"},{"t":1250,"v":0.41,"s":"L0"},{"t":1258,"v":-0.38,"s":"L0"},{"t":1266,"v":0.33,"s":"L0"},{"t":1274,"v":-0.41,"s":"L0"},{"t":1282,"v":0.31,"s":"L0"},{"t":1290,"v":-0.38,"s":"L0"},{"t":1298,"v":0.34,"s":"L0"},{"t":1302,"v":-0.95,"s":"L0"},{"t":1306,"v":0.82,"s":"L0"},{"t":1312,"v":-0.38,"s":"L0"},{"t":1320,"v":0.3,"s":"L0"},{"t":1328,"v":-0.35,"s":"L0"},{"t":1336,"v":0.25,"s":"L0"},{"t":1344,"v":-0.2,"s":"L0"},{"t":1352,"v":0.15,"s":"L0"},{"t":1360,"v":-0.12,"s":"L0"},{"t":1368,"v":0.12,"s":"L0"},{"t":1376,"v":-0.13,"s":"L0"},{"t":1384,"v":0.09,"s":"L0"},{"t":1392,"v":-0.14,"s":"L0"},{"t":1400,"v":0.1,"s":"L0"},{"t":1408,"v":-0.16,"s":"L0"},{"t":1416,"v":0.18,"s":"L0"},{"t":1424,"v":-0.2,"s":"L0"},{"t":1432,"v":0.25,"s":"L0"},{"t":1440,"v":-0.24,"s":"L0"},{"t":1448,"v":0.22,"s":"L0"},{"t":1456,"v":-0.26,"s":"L0"},{"t":1464,"v":0.2,"s":"L0"},{"t":1472,"v":-0.22,"s":"L0"},{"t":1480,"v":0.18,"s":"L0"},{"t":1488,"v":-0.19,"s":"L0"},{"t":1496,"v":0.17,"s":"L0"},{"t":1504,"v":-0.18,"s":"L0"},{"t":1512,"v":0.22,"s":"L0"},{"t":1520,"v":-0.2,"s":"L0"},{"t":1528,"v":0.34,"s":"L0"},{"t":1536,"v":-0.25,"s":"L0"},{"t":1544,"v":0.36,"s":"L0"},{"t":1552,"v":-0.38,"s":"L0"},{"t":1560,"v":0.3,"s":"L0"},{"t":1568,"v":-0.25,"s":"L0"},{"t":1576,"v":0.15,"s":"L0"},{"t":1584,"v":-0.2,"s":"L0"},{"t":1592,"v":0.13,"s":"L0"},{"t":1600,"v":-0.13,"s":"L0"},{"t":1608,"v":0.13,"s":"L0"},{"t":1616,"v":-0.12,"s":"L0"},{"t":1624,"v":0.12,"s":"L0"},{"t":1632,"v":-0.1,"s":"L0"},{"t":1640,"v":0.11,"s":"L0"},{"t":1648,"v":-0.1,"s":"L0"},{"t":1656,"v":0.1,"s":"L0"},{"t":1664,"v":-0.1,"s":"L0"},{"t":1672,"v":0.09,"s":"L0"},{"t":1680,"v":-0.12,"s":"L0"},{"t":1688,"v":0.1,"s":"L0"},{"t":1696,"v":-0.16,"s":"L0"},{"t":1704,"v":0.11,"s":"L0"},{"t":1712,"v":-0.18,"s":"L0"},{"t":1720,"v":0.16,"s":"L0"},{"t":1728,"v":-0.2,"s":"L0"},{"t":1736,"v":0.2,"s":"L0"},{"t":1744,"v":-0.2,"s":"L0"},{"t":1752,"v":0.18,"s":"L0"},{"t":1760,"v":-0.2,"s":"L0"},{"t":1768,"v":0.17,"s":"L0"},{"t":1776,"v":-0.24,"s":"L0"},{"t":1784,"v":0.3,"s":"L0"},{"t":1792,"v":-0.24,"s":"L0"},{"t":1800,"v":0.28,"s":"L0"},{"t":1808,"v":-0.16,"s":"L0"},{"t":1816,"v":0.12,"s":"L0"},{"t":1824,"v":-0.1,"s":"L0"},
{"t":1832,"v":0.19,"s":"L0"},{"t":1840,"v":-0.07,"s":"L0"},{"t":1848,"v":0.06,"s":"L0"},{"t":1856,"v":-0.07,"s":"L0"},{"t":1864,"v":0.08,"s":"L0"},{"t":1872,"v":-0.06,"s":"L0"},{"t":1880,"v":0.07,"s":"L0"},{"t":1888,"v":-0.08,"s":"L0"},{"t":1896,"v":0.06,"s":"L0"},{"t":1904,"v":-0.07,"s":"L0"},{"t":1912,"v":0.09,"s":"L0"},{"t":1920,"v":-0.06,"s":"L0"},{"t":1928,"v":0.07,"s":"L0"},{"t":1936,"v":-0.09,"s":"L0"},{"t":1944,"v":0.06,"s":"L0"},{"t":1952,"v":-0.07,"s":"L0"},{"t":1960,"v":0.08,"s":"L0"},{"t":1968,"v":-0.06,"s":"L0"},{"t":1976,"v":0.07,"s":"L0"},{"t":1984,"v":-0.08,"s":"L0"},{"t":1992,"v":0.1,"s":"L0"},{"t":2000,"v":-0.07,"s":"L0"},{"t":2008,"v":0.06,"s":"L0"},{"t":2016,"v":-0.08,"s":"L0"},{"t":2024,"v":0.07,"s":"L0"},{"t":2032,"v":-0.1,"s":"L0"},{"t":2040,"v":0.12,"s":"L0"},{"t":2048,"v":-0.07,"s":"L0"},{"t":2056,"v":0.08,"s":"L0"},{"t":2064,"v":-0.09,"s":"L0"},{"t":2072,"v":0.06,"s":"L0"},{"t":2080,"v":-0.07,"s":"L0"},{"t":2088,"v":0.08,"s":"L0"},{"t":2096,"v":-0.12,"s":"L0"},{"t":2104,"v":0.22,"s":"L0"},{"t":2112,"v":-0.08,"s":"L0"},{"t":2120,"v":0.07,"s":"L0"},{"t":2128,"v":-0.06,"s":"L0"},{"t":2134,"v":0.12,"s":"L0"},{"t":2142,"v":-0.12,"s":"L0"},{"t":2150,"v":0.06,"s":"L0"},{"t":2158,"v":-0.08,"s":"L0"},{"t":2166,"v":0.07,"s":"L0"},{"t":2174,"v":-0.06,"s":"L0"},{"t":2182,"v":0.08,"s":"L0"},{"t":2190,"v":-0.07,"s":"L0"},{"t":2198,"v":0.1,"s":"L0"},{"t":2206,"v":-0.06,"s":"L0"},{"t":2214,"v":0.11,"s":"L0"},{"t":2222,"v":-0.08,"s":"L0"},{"t":2230,"v":0.07,"s":"L0"},{"t":2238,"v":-0.07,"s":"L0"},{"t":2246,"v":0.16,"s":"L0"},{"t":2252,"v":-0.14,"s":"L0"},{"t":2260,"v":0.07,"s":"L0"},{"t":2268,"v":-0.06,"s":"L0"},{"t":2276,"v":0.06,"s":"L0"},{"t":2284,"v":-0.08,"s":"L0"},{"t":2292,"v":0.09,"s":"L0"},{"t":2300,"v":-0.1,"s":"L0"},{"t":2308,"v":0.09,"s":"L0"},{"t":2316,"v":-0.07,"s":"L0"},{"t":2322,"v":0.05,"s":"L0"},
{"t":2327,"v":-0.03,"s":"L0"},{"t":2332,"v":0.04,"s":"L0"},{"t":2337,"v":-0.06,"s":"L0"},{"t":2342,"v":0.045,"s":"L0"},{"t":2347,"v":-0.09,"s":"L0"},{"t":2352,"v":0.04,"s":"L0"},{"t":2357,"v":-0.11,"s":"L0"},{"t":2362,"v":0.045,"s":"L0"},{"t":2367,"v":-0.12,"s":"L0"},{"t":2372,"v":0.04,"s":"L0"},{"t":2377,"v":-0.13,"s":"L0"},{"t":2382,"v":0.045,"s":"L0"},{"t":2387,"v":-0.135,"s":"L0"},{"t":2392,"v":0.04,"s":"L0"},{"t":2397,"v":-0.14,"s":"L0"},{"t":2402,"v":0.045,"s":"L0"},{"t":2407,"v":-0.14,"s":"L0"},{"t":2412,"v":0.04,"s":"L0"},{"t":2417,"v":-0.135,"s":"L0"},{"t":2422,"v":0.045,"s":"L0"},{"t":2427,"v":-0.13,"s":"L0"},{"t":2432,"v":0.04,"s":"L0"},{"t":2437,"v":-0.125,"s":"L0"},{"t":2442,"v":0.045,"s":"L0"},{"t":2447,"v":-0.12,"s":"L0"},{"t":2452,"v":0.04,"s":"L0"},{"t":2457,"v":-0.12,"s":"L0"},{"t":2462,"v":0.045,"s":"L0"},{"t":2467,"v":-0.115,"s":"L0"},{"t":2472,"v":0.04,"s":"L0"},{"t":2477,"v":-0.11,"s":"L0"},{"t":2482,"v":0.045,"s":"L0"},{"t":2487,"v":-0.11,"s":"L0"},{"t":2492,"v":0.04,"s":"L0"},{"t":2497,"v":-0.105,"s":"L0"},{"t":2502,"v":0.045,"s":"L0"},{"t":2507,"v":-0.105,"s":"L0"},{"t":2512,"v":0.04,"s":"L0"},{"t":2517,"v":-0.1,"s":"L0"},{"t":2522,"v":0.045,"s":"L0"},{"t":2527,"v":-0.1,"s":"L0"},{"t":2532,"v":0.04,"s":"L0"},{"t":2537,"v":-0.1,"s":"L0"},{"t":2542,"v":0.045,"s":"L0"},{"t":2547,"v":-0.1,"s":"L0"},{"t":2552,"v":0.04,"s":"L0"},{"t":2557,"v":-0.1,"s":"L0"},{"t":2562,"v":0.045,"s":"L0"},{"t":2567,"v":-0.1,"s":"L0"},{"t":2572,"v":0.04,"s":"L0"},
{"t":2577,"v":-0.005,"s":"L0"},{"t":2585,"v":-0.025,"s":"L0"},{"t":2595,"v":-0.04,"s":"L0"},{"t":2610,"v":-0.05,"s":"L0"},{"t":2630,"v":-0.057,"s":"L0"},{"t":2670,"v":-0.06,"s":"L0"},{"t":2750,"v":-0.062,"s":"L0"},{"t":2824,"v":-0.063,"s":"L0"},{"t":2827,"v":0.006,"s":"L0"},{"t":3074,"v":0.006,"s":"L0"},{"t":3077,"v":0.004,"s":"L0"},{"t":3325,"v":0.004,"s":"L0"},
{"t":325,"v":0.0,"s":"L1"},{"t":327,"v":0.58,"s":"L1"},{"t":333,"v":-0.6,"s":"L1"},{"t":339,"v":0.6,"s":"L1"},{"t":345,"v":-0.58,"s":"L1"},{"t":351,"v":0.56,"s":"L1"},{"t":357,"v":-0.7,"s":"L1"},{"t":363,"v":0.6,"s":"L1"},{"t":369,"v":-0.75,"s":"L1"},{"t":375,"v":0.85,"s":"L1"},{"t":381,"v":-0.8,"s":"L1"},{"t":387,"v":0.94,"s":"L1"},{"t":393,"v":-1.03,"s":"L1"},{"t":399,"v":0.92,"s":"L1"},{"t":405,"v":-0.85,"s":"L1"},{"t":411,"v":0.92,"s":"L1"},{"t":417,"v":-0.8,"s":"L1"},{"t":423,"v":0.85,"s":"L1"},{"t":429,"v":-0.7,"s":"L1"},{"t":435,"v":0.75,"s":"L1"},{"t":441,"v":-0.66,"s":"L1"},{"t":447,"v":0.69,"s":"L1"},{"t":453,"v":-0.7,"s":"L1"},{"t":459,"v":0.62,"s":"L1"},{"t":465,"v":-0.69,"s":"L1"},{"t":471,"v":0.6,"s":"L1"},{"t":477,"v":-0.78,"s":"L1"},{"t":483,"v":0.86,"s":"L1"},{"t":489,"v":-0.7,"s":"L1"},{"t":495,"v":0.62,"s":"L1"},{"t":501,"v":-0.6,"s":"L1"},{"t":507,"v":0.58,"s":"L1"},{"t":513,"v":-0.6,"s":"L1"},{"t":519,"v":0.56,"s":"L1"},{"t":525,"v":-0.6,"s":"L1"},{"t":531,"v":0.5,"s":"L1"},{"t":537,"v":-0.55,"s":"L1"},{"t":543,"v":0.46,"s":"L1"},{"t":549,"v":-0.45,"s":"L1"},{"t":555,"v":0.38,"s":"L1"},{"t":561,"v":-0.36,"s":"L1"},{"t":567,"v":0.29,"s":"L1"},{"t":573,"v":-0.33,"s":"L1"},{"t":579,"v":0.3,"s":"L1"},{"t":585,"v":-0.3,"s":"L1"},{"t":591,"v":0.3,"s":"L1"},{"t":597,"v":-0.34,"s":"L1"},{"t":603,"v":0.29,"s":"L1"},{"t":609,"v":-0.32,"s":"L1"},{"t":615,"v":0.3,"s":"L1"},{"t":621,"v":-0.3,"s":"L1"},{"t":627,"v":0.31,"s":"L1"},{"t":633,"v":-0.3,"s":"L1"},{"t":639,"v":0.32,"s":"L1"},{"t":645,"v":-0.31,"s":"L1"},{"t":651,"v":0.38,"s":"L1"},{"t":657,"v":-0.33,"s":"L1"},{"t":663,"v":0.43,"s":"L1"},{"t":669,"v":-0.33,"s":"L1"},{"t":675,"v":0.4,"s":"L1"},{"t":681,"v":-0.34,"s":"L1"},{"t":687,"v":0.38,"s":"L1"},{"t":693,"v":-0.35,"s":"L1"},{"t":699,"v":0.36,"s":"L1"},{"t":705,"v":-0.39,"s":"L1"},{"t":711,"v":0.36,"s":"L1"},{"t":717,"v":-0.42,"s":"L1"},{"t":723,"v":0.45,"s":"L1"},{"t":729,"v":-0.48,"s":"L1"},{"t":735,"v":0.58,"s":"L1"},{"t":741,"v":-0.44,"s":"L1"},{"t":747,"v":0.45,"s":"L1"},{"t":753,"v":-0.39,"s":"L1"},{"t":759,"v":0.41,"s":"L1"},{"t":765,"v":-0.38,"s":"L1"},{"t":771,"v":0.42,"s":"L1"},{"t":777,"v":-0.37,"s":"L1"},{"t":783,"v":0.46,"s":"L1"},{"t":789,"v":-0.36,"s":"L1"},{"t":795,"v":0.5,"s":"L1"},{"t":801,"v":-0.36,"s":"L1"},{"t":807,"v":0.52,"s":"L1"},{"t":813,"v":-0.38,"s":"L1"},{"t":819,"v":0.5,"s":"L1"},{"t":823,"v":-0.83,"s":"L1"},{"t":826,"v":0.85,"s":"L1"},{"t":831,"v":-0.45,"s":"L1"},{"t":837,"v":0.3,"s":"L1"},{"t":843,"v":-0.42,"s":"L1"},{"t":849,"v":0.29,"s":"L1"},{"t":855,"v":-0.35,"s":"L1"},{"t":861,"v":0.28,"s":"L1"},{"t":867,"v":-0.3,"s":"L1"},{"t":873,"v":0.27,"s":"L1"},{"t":879,"v":-0.27,"s":"L1"},{"t":885,"v":0.27,"s":"L1"},{"t":891,"v":-0.24,"s":"L1"},{"t":897,"v":0.22,"s":"L1"},{"t":903,"v":-0.21,"s":"L1"},{"t":909,"v":0.18,"s":"L1"},{"t":915,"v":-0.2,"s":"L1"},{"t":921,"v":0.15,"s":"L1"},{"t":927,"v":-0.18,"s":"L1"},{"t":933,"v":0.13,"s":"L1"},{"t":939,"v":-0.17,"s":"L1"},{"t":945,"v":0.12,"s":"L1"},{"t":951,"v":-0.17,"s":"L1"},{"t":957,"v":0.18,"s":"L1"},{"t":963,"v":-0.16,"s":"L1"},{"t":969,"v":0.2,"s":"L1"},{"t":975,"v":-0.18,"s":"L1"},{"t":981,"v":0.21,"s":"L1"},{"t":987,"v":-0.2,"s":"L1"},{"t":993,"v":0.21,"s":"L1"},{"t":999,"v":-0.21,"s":"L1"},{"t":1005,"v":0.24,"s":"L1"},{"t":1011,"v":-0.23,"s":"L1"},{"t":1017,"v":0.28,"s":"L1"},{"t":1023,"v":-0.26,"s":"L1"},{"t":1029,"v":0.33,"s":"L1"},{"t":1035,"v":-0.3,"s":"L1"},{"t":1041,"v":0.34,"s":"L1"},{"t":1047,"v":-0.3,"s":"L1"},{"t":1053,"v":0.32,"s":"L1"},{"t":1059,"v":-0.24,"s":"L1"},{"t":1065,"v":0.24,"s":"L1"},{"t":1071,"v":-0.17,"s":"L1"},{"t":1077,"v":0.17,"s":"L1"},{"t":1083,"v":-0.14,"s":"L1"},{"t":1089,"v":0.12,"s":"L1"},{"t":1095,"v":-0.12,"s":"L1"},{"t":1101,"v":0.09,"s":"L1"},{"t":1107,"v":-0.12,"s":"L1"},{"t":1113,"v":0.08,"s":"L1"},{"t":1119,"v":-0.11,"s":"L1"},{"t":1125,"v":0.07,"s":"L1"},{"t":1131,"v":-0.1,"s":"L1"},{"t":1137,"v":0.07,"s":"L1"},{"t":1143,"v":-0.1,"s":"L1"},{"t":1149,"v":0.08,"s":"L1"},{"t":1155,"v":-0.12,"s":"L1"},{"t":1161,"v":0.1,"s":"L1"},{"t":1167,"v":-0.13,"s":"L1"},{"t":1173,"v":0.11,"s":"L1"},{"t":1179,"v":-0.13,"s":"L1"},{"t":1185,"v":0.12,"s":"L1"},{"t":1191,"v":-0.12,"s":"L1"},{"t":1197,"v":0.14,"s":"L1"},{"t":1203,"v":-0.12,"s":"L1"},{"t":1209,"v":0.15,"s":"L1"},{"t":1215,"v":-0.12,"s":"L1"},{"t":1221,"v":0.12,"s":"L1"},{"t":1227,"v":-0.1,"s":"L1"},{"t":1233,"v":0.1,"s":"L1"},{"t":1239,"v":-0.1,"s":"L1"},{"t":1245,"v":0.09,"s":"L1"},{"t":1251,"v":-0.1,"s":"L1"},{"t":1257,"v":0.09,"s":"L1"},{"t":1263,"v":-0.11,"s":"L1"},{"t":1269,"v":0.1,"s":"L1"},{"t":1275,"v":-0.12,"s":"L1"},{"t":1281,"v":0.11,"s":"L1"},{"t":1287,"v":-0.12,"s":"L1"},{"t":1293,"v":0.12,"s":"L1"},{"t":1299,"v":-0.14,"s":"L1"},{"t":1305,"v":0.14,"s":"L1"},{"t":1311,"v":-0.18,"s":"L1"},{"t":1317,"v":0.16,"s":"L1"},{"t":1323,"v":-0.24,"s":"L1"},{"t":1329,"v":0.16,"s":"L1"},{"t":1335,"v":-0.16,"s":"L1"},{"t":1341,"v":0.11,"s":"L1"},{"t":1347,"v":-0.1,"s":"L1"},{"t":1353,"v":0.09,"s":"L1"},{"t":1359,"v":-0.1,"s":"L1"},{"t":1365,"v":0.09,"s":"L1"},{"t":1371,"v":-0.09,"s":"L1"},{"t":1377,"v":0.07,"s":"L1"},{"t":1383,"v":-0.07,"s":"L1"},{"t":1389,"v":0.06,"s":"L1"},{"t":1395,"v":-0.06,"s":"L1"},{"t":1401,"v":0.05,"s":"L1"},{"t":1407,"v":-0.06,"s":"L1"},{"t":1413,"v":0.06,"s":"L1"},{"t":1419,"v":-0.07,"s":"L1"},{"t":1425,"v":0.09,"s":"L1"},{"t":1431,"v":-0.08,"s":"L1"},{"t":1437,"v":0.12,"s":"L1"},{"t":1443,"v":-0.08,"s":"L1"},{"t":1449,"v":0.13,"s":"L1"},{"t":1455,"v":-0.08,"s":"L1"},{"t":1461,"v":0.11,"s":"L1"},{"t":1467,"v":-0.1,"s":"L1"},{"t":1473,"v":0.09,"s":"L1"},{"t":1479,"v":-0.1,"s":"L1"},{"t":1485,"v":0.09,"s":"L1"},{"t":1491,"v":-0.1,"s":"L1"},{"t":1497,"v":0.08,"s":"L1"},{"t":1503,"v":-0.1,"s":"L1"},{"t":1509,"v":0.08,"s":"L1"},{"t":1515,"v":-0.1,"s":"L1"},{"t":1521,"v":0.07,"s":"L1"},{"t":1527,"v":-0.1,"s":"L1"},{"t":1533,"v":0.07,"s":"L1"},{"t":1539,"v":-0.1,"s":"L1"},{"t":1545,"v":0.08,"s":"L1"},{"t":1551,"v":-0.09,"s":"L1"},{"t":1557,"v":0.1,"s":"L1"},{"t":1563,"v":-0.07,"s":"L1"},{"t":1569,"v":0.1,"s":"L1"},{"t":1575,"v":-0.07,"s":"L1"},{"t":1581,"v":0.1,"s":"L1"},{"t":1587,"v":-0.07,"s":"L1"},{"t":1593,"v":0.09,"s":"L1"},{"t":1599,"v":-0.08,"s":"L1"},{"t":1605,"v":0.09,"s":"L1"},{"t":1611,"v":-0.08,"s":"L1"},{"t":1617,"v":0.09,"s":"L1"},{"t":1623,"v":-0.08,"s":"L1"},{"t":1629,"v":0.09,"s":"L1"},{"t":1635,"v":-0.08,"s":"L1"},{"t":1641,"v":0.09,"s":"L1"},{"t":1647,"v":-0.08,"s":"L1"},{"t":1653,"v":0.09,"s":"L1"},{"t":1659,"v":-0.09,"s":"L1"},{"t":1665,"v":0.1,"s":"L1"},{"t":1671,"v":-0.11,"s":"L1"},{"t":1677,"v":0.12,"s":"L1"},{"t":1683,"v":-0.13,"s":"L1"},{"t":1689,"v":0.13,"s":"L1"},{"t":1695,"v":-0.13,"s":"L1"},{"t":1701,"v":0.11,"s":"L1"},{"t":1707,"v":-0.1,"s":"L1"},{"t":1713,"v":0.09,"s":"L1"},{"t":1719,"v":-0.08,"s":"L1"},{"t":1725,"v":0.09,"s":"L1"},{"t":1731,"v":-0.08,"s":"L1"},{"t":1737,"v":0.09,"s":"L1"},{"t":1743,"v":-0.08,"s":"L1"},{"t":1749,"v":0.09,"s":"L1"},{"t":1755,"v":-0.08,"s":"L1"},{"t":1761,"v":0.1,"s":"L1"},{"t":1767,"v":-0.08,"s":"L1"},{"t":1773,"v":0.1,"s":"L1"},{"t":1779,"v":-0.08,"s":"L1"},{"t":1785,"v":0.09,"s":"L1"},{"t":1791,"v":-0.08,"s":"L1"},{"t":1797,"v":0.08,"s":"L1"},{"t":1803,"v":-0.07,"s":"L1"},{"t":1809,"v":0.13,"s":"L1"},{"t":1815,"v":-0.06,"s":"L1"},{"t":1821,"v":0.15,"s":"L1"},{"t":1827,"v":-0.05,"s":"L1"},
{"t":1833,"v":0.09,"s":"L1"},{"t":1839,"v":-0.09,"s":"L1"},{"t":1845,"v":0.1,"s":"L1"},{"t":1851,"v":-0.08,"s":"L1"},{"t":1857,"v":0.09,"s":"L1"},{"t":1863,"v":-0.1,"s":"L1"},{"t":1869,"v":0.08,"s":"L1"},{"t":1875,"v":-0.09,"s":"L1"},{"t":1881,"v":0.1,"s":"L1"},{"t":1887,"v":-0.08,"s":"L1"},{"t":1893,"v":0.09,"s":"L1"},{"t":1899,"v":-0.09,"s":"L1"},{"t":1905,"v":0.11,"s":"L1"},{"t":1911,"v":-0.1,"s":"L1"},{"t":1917,"v":0.09,"s":"L1"},{"t":1923,"v":-0.08,"s":"L1"},{"t":1929,"v":0.08,"s":"L1"},{"t":1935,"v":-0.09,"s":"L1"},{"t":1941,"v":0.1,"s":"L1"},{"t":1947,"v":-0.1,"s":"L1"},{"t":1953,"v":0.09,"s":"L1"},{"t":1959,"v":-0.08,"s":"L1"},{"t":1965,"v":0.1,"s":"L1"},{"t":1971,"v":-0.09,"s":"L1"},{"t":1977,"v":0.09,"s":"L1"},{"t":1983,"v":-0.1,"s":"L1"},{"t":1989,"v":0.11,"s":"L1"},{"t":1995,"v":-0.09,"s":"L1"},{"t":2001,"v":0.09,"s":"L1"},{"t":2007,"v":-0.08,"s":"L1"},{"t":2013,"v":0.1,"s":"L1"},{"t":2019,"v":-0.09,"s":"L1"},{"t":2025,"v":0.09,"s":"L1"},{"t":2031,"v":-0.1,"s":"L1"},{"t":2037,"v":0.08,"s":"L1"},{"t":2043,"v":-0.09,"s":"L1"},{"t":2049,"v":0.1,"s":"L1"},{"t":2055,"v":-0.08,"s":"L1"},{"t":2061,"v":0.09,"s":"L1"},{"t":2067,"v":-0.09,"s":"L1"},{"t":2073,"v":0.08,"s":"L1"},{"t":2079,"v":-0.08,"s":"L1"},{"t":2085,"v":0.077,"s":"L1"},{"t":2091,"v":-0.075,"s":"L1"},{"t":2097,"v":0.07,"s":"L1"},{"t":2103,"v":-0.077,"s":"L1"},{"t":2109,"v":0.075,"s":"L1"},{"t":2115,"v":-0.07,"s":"L1"},{"t":2121,"v":0.077,"s":"L1"},{"t":2127,"v":-0.075,"s":"L1"},{"t":2133,"v":0.07,"s":"L1"},{"t":2139,"v":-0.077,"s":"L1"},{"t":2145,"v":0.075,"s":"L1"},{"t":2151,"v":-0.07,"s":"L1"},{"t":2157,"v":0.077,"s":"L1"},{"t":2163,"v":-0.075,"s":"L1"},{"t":2169,"v":0.07,"s":"L1"},{"t":2175,"v":-0.077,"s":"L1"},{"t":2181,"v":0.075,"s":"L1"},{"t":2187,"v":-0.07,"s":"L1"},{"t":2193,"v":0.077,"s":"L1"},{"t":2199,"v":-0.075,"s":"L1"},{"t":2205,"v":0.07,"s":"L1"},{"t":2211,"v":-0.077,"s":"L1"},{"t":2217,"v":0.075,"s":"L1"},{"t":2223,"v":-0.07,"s":"L1"},{"t":2229,"v":0.077,"s":"L1"},{"t":2235,"v":-0.075,"s":"L1"},{"t":2241,"v":0.07,"s":"L1"},{"t":2247,"v":-0.077,"s":"L1"},{"t":2253,"v":0.075,"s":"L1"},{"t":2259,"v":-0.07,"s":"L1"},{"t":2265,"v":0.077,"s":"L1"},{"t":2271,"v":-0.075,"s":"L1"},{"t":2277,"v":0.07,"s":"L1"},{"t":2283,"v":-0.06,"s":"L1"},{"t":2289,"v":0.05,"s":"L1"},{"t":2295,"v":-0.05,"s":"L1"},{"t":2301,"v":0.055,"s":"L1"},{"t":2307,"v":-0.05,"s":"L1"},{"t":2313,"v":0.05,"s":"L1"},{"t":2319,"v":-0.055,"s":"L1"},{"t":2325,"v":0.09,"s":"L1"},{"t":2329,"v":-0.08,"s":"L1"},{"t":2333,"v":0.03,"s":"L1"},
{"t":2340,"v":-0.003,"s":"L1"},{"t":2350,"v":0.012,"s":"L1"},{"t":2360,"v":-0.002,"s":"L1"},{"t":2370,"v":0.012,"s":"L1"},{"t":2380,"v":-0.002,"s":"L1"},{"t":2390,"v":0.012,"s":"L1"},{"t":2396,"v":-0.055,"s":"L1"},{"t":2399,"v":0.083,"s":"L1"},{"t":2403,"v":-0.002,"s":"L1"},{"t":2415,"v":0.012,"s":"L1"},{"t":2425,"v":-0.002,"s":"L1"},{"t":2440,"v":0.01,"s":"L1"},{"t":2455,"v":-0.002,"s":"L1"},{"t":2470,"v":0.01,"s":"L1"},{"t":2485,"v":-0.001,"s":"L1"},{"t":2500,"v":0.01,"s":"L1"},{"t":2515,"v":-0.001,"s":"L1"},{"t":2530,"v":0.009,"s":"L1"},{"t":2545,"v":-0.001,"s":"L1"},{"t":2560,"v":0.009,"s":"L1"},{"t":2573,"v":-0.055,"s":"L1"},{"t":2576,"v":0.054,"s":"L1"},{"t":2580,"v":0.0,"s":"L1"},{"t":3325,"v":0.0,"s":"L1"}
]
},
"resolve":{"axis":{"x":"independent","y":"independent"}},
"layer":[
{"data":{"name":"bounds"},
 "mark":{"type":"rule","color":"#8f8f8f","strokeDash":[8,4],"strokeWidth":1.5},
 "encoding":{"x":{"field":"b","type":"quantitative","scale":{"domain":[-130,3325],"nice":false,"zero":false},
   "axis":{"orient":"top","values":[0,325,575,825,1075,1325,1575,1825,2075,2325,2575,2825,3075,3325],"labels":false,"grid":false,"title":null}}}},
{"data":{"name":"zones"},
 "mark":{"type":"text","font":"Liberation Serif, Times New Roman, serif","fontSize":17,"color":"#000000","align":"center","baseline":"middle"},
 "encoding":{"x":{"field":"lt","type":"quantitative","scale":{"domain":[-130,3325],"nice":false,"zero":false},"axis":null},
   "y":{"field":"lv","type":"quantitative","scale":{"domain":[-1.5,2.1],"nice":false,"zero":false},
   "axis":{"orient":"right","values":[-1.5,-1,-0.5,0,0.5,1,1.5,2],"labels":false,"grid":false,"title":null}},
   "text":{"field":"lab"}}},
{"data":{"name":"curves"},
 "transform":[{"filter":"datum.s == 'L0'"}],
 "mark":{"type":"line","color":"#ff0000","strokeWidth":1.8,"strokeJoin":"round","clip":true},
 "encoding":{"x":{"field":"t","type":"quantitative","scale":{"domain":[-130,3325],"nice":false,"zero":false},
   "axis":{"orient":"bottom","values":[0,325,575,825,1075,1325,1575,1825,2075,2325,2575,2825,3075,3325],"format":"d","grid":true,"labelPadding":22,"labelFont":"Liberation Serif, Times New Roman, serif","title":"t/(U∞/D)","titleFont":"Liberation Serif, Times New Roman, serif","titlePadding":5}},
   "y":{"field":"v","type":"quantitative","scale":{"domain":[-1.5,2.1],"nice":false,"zero":false},
   "axis":{"orient":"left","values":[-1.5,-1,-0.5,0,0.5,1,1.5,2],"grid":true,"labelPadding":19,"labelFont":"Liberation Serif, Times New Roman, serif","labelExpr":"'' + datum.value","title":"CD, CL","titleFont":"Liberation Serif, Times New Roman, serif","titlePadding":8}}}},
{"data":{"name":"curves"},
 "transform":[{"filter":"datum.s == 'L1'"}],
 "mark":{"type":"line","color":"#000000","strokeWidth":1.8,"strokeJoin":"round","clip":true},
 "encoding":{"x":{"field":"t","type":"quantitative","scale":{"domain":[-130,3325],"nice":false,"zero":false},"axis":null},
   "y":{"field":"v","type":"quantitative","scale":{"domain":[-1.5,2.1],"nice":false,"zero":false},"axis":null}}},
{"data":{"name":"curves"},
 "transform":[{"filter":"datum.s == 'D0' || datum.s == 'D1'"}],
 "mark":{"type":"line","strokeWidth":3,"strokeJoin":"round","clip":true},
 "encoding":{"x":{"field":"t","type":"quantitative","scale":{"domain":[-130,3325],"nice":false,"zero":false},"axis":null},
   "y":{"field":"v","type":"quantitative","scale":{"domain":[-1.5,2.1],"nice":false,"zero":false},"axis":null},
   "color":{"field":"s","type":"nominal","scale":{"domain":["D0","D1"],"range":["#ff0000","#000000"]},
     "legend":{"title":null,"orient":"top-right","offset":14,"labelExpr":"datum.label == 'D0' ? 'Case 0' : 'Case 1'","fillColor":"#ffffff","strokeColor":"#555555","padding":5,"symbolType":"M-2.5,0H2.5","symbolSize":369,"symbolOffset":14,"symbolStrokeWidth":3,"labelFont":"Liberation Serif, Times New Roman, serif","labelFontSize":17,"labelColor":"#000000","rowPadding":3,"labelOffset":23}}}},
{"data":{"name":"notes"},
 "mark":{"type":"text","font":"Liberation Serif, Times New Roman, serif","fontSize":19,"fontStyle":"italic","color":"#000000","align":"left","baseline":"alphabetic"},
 "encoding":{"x":{"field":"nt","type":"quantitative","scale":{"domain":[-130,3325],"nice":false,"zero":false},"axis":null},
   "y":{"field":"nv","type":"quantitative","scale":{"domain":[-1.5,2.1],"nice":false,"zero":false},"axis":null},
   "text":{"field":"m"}}},
{"data":{"name":"notes"},
 "mark":{"type":"text","font":"Liberation Serif, Times New Roman, serif","fontSize":13,"fontStyle":"italic","color":"#000000","align":"left","baseline":"alphabetic","dx":13,"dy":4},
 "encoding":{"x":{"field":"nt","type":"quantitative","scale":{"domain":[-130,3325],"nice":false,"zero":false},"axis":null},
   "y":{"field":"nv","type":"quantitative","scale":{"domain":[-1.5,2.1],"nice":false,"zero":false},"axis":null},
   "text":{"field":"sub"}}}
]
}
